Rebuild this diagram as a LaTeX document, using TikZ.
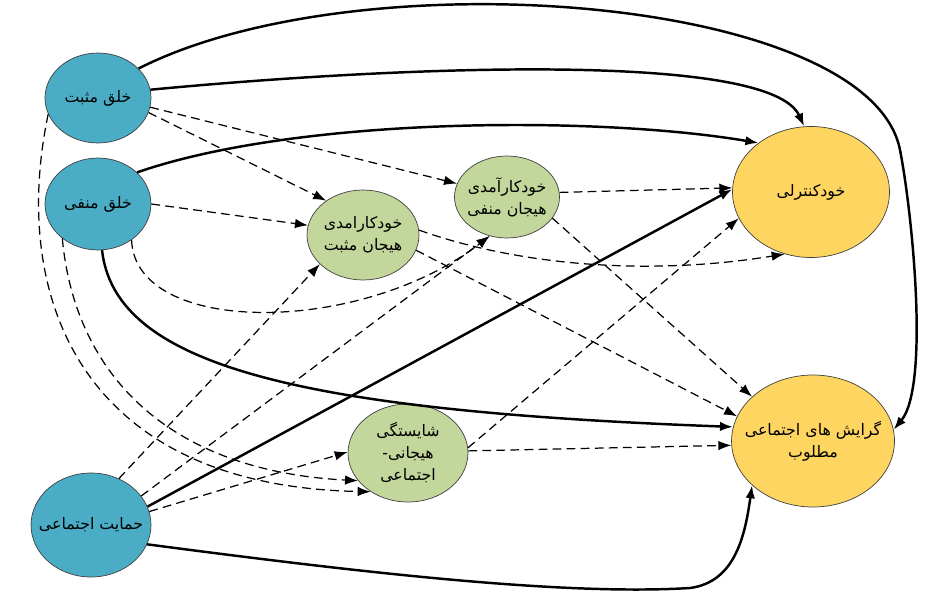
\documentclass[tikz,border=0pt]{standalone}
\usepackage{fontspec}
\usepackage{tikz}
\usetikzlibrary{shapes.geometric,arrows.meta}
\newfontfamily\farsi[Script=Arabic]{DejaVu Sans}
\TeXXeTstate=1
\newcommand{\fa}[1]{\beginR #1\endR}
\definecolor{moodblue}{RGB}{75,172,198}
\definecolor{effgreen}{RGB}{195,214,155}
\definecolor{outyellow}{RGB}{253,213,96}

\begin{document}
\begin{tikzpicture}
  [x=0.02cm,y=0.02cm,>={Latex[length=2.6mm,width=1.9mm]},
   every node/.style={ellipse,draw=black!75,thin,font=\farsi\fontsize{9}{12.5}\selectfont,align=center,inner sep=-6pt},
   solid edge/.style={->,line width=1.4pt},
   dash edge/.style={->,line width=0.7pt,dash pattern=on 5pt off 3pt}]
  \useasboundingbox (0,0) rectangle (925,596);

  \node[fill=moodblue,minimum width=2.12cm,minimum height=1.8cm] (pos) at (98,498) {\fa{خلق مثبت}};
  \node[fill=moodblue,minimum width=2.12cm,minimum height=1.84cm] (neg) at (98,392) {\fa{خلق منفی}};
  \node[fill=moodblue,minimum width=2.4cm,minimum height=2.08cm] (sup) at (91,71) {\fa{حمایت اجتماعی}};
  \node[fill=effgreen,minimum width=2.24cm,minimum height=1.8cm] (ep) at (363,361) {\fa{خودکارامدی}\\\fa{هیجان مثبت}};
  \node[fill=effgreen,minimum width=2.1cm,minimum height=1.64cm] (en) at (507,399) {\fa{خودکارآمدی}\\\fa{هیجان منفی}};
  \node[fill=effgreen,minimum width=2.4cm,minimum height=1.96cm] (scp) at (408,143) {\fa{شایستگی}\\\fa{هیجانی-}\\\fa{اجتماعی}};
  \node[fill=outyellow,minimum width=3.14cm,minimum height=2.62cm] (ctrl) at (811,404) {\fa{خودکنترلی}};
  \node[fill=outyellow,minimum width=3.14cm,minimum height=2.64cm] (goal) at (813,155) {\fa{گرایش های اجتماعی}\\\fa{مطلوب}};

  % direct paths
  \draw[solid edge] (pos.36) .. controls (360,640) and (870,600) .. (900,446) .. controls (912,385) and (930,210) .. (goal.8);
  \draw[solid edge] (pos.9) .. controls (400,530) and (770,545) .. (ctrl.96);
  \draw[solid edge] (neg.39) .. controls (300,480) and (600,480) .. (ctrl.137);
  \draw[solid edge] (neg.275) .. controls (115,230) and (300,185) .. (goal.170);
  \draw[solid edge] (sup.18) -- (ctrl.178);
  \draw[solid edge] (sup.341) .. controls (350,25) and (560,0) .. (690,8) .. controls (735,14) and (745,60) .. (goal.216);

  % mediated paths
  \draw[dash edge] (pos.198) .. controls (10,300) and (80,110) .. (scp.226);
  \draw[dash edge] (neg.224) .. controls (75,220) and (170,125) .. (scp.209);
  \draw[dash edge] (neg.313) .. controls (135,260) and (360,260) .. (en.246);
  \draw[dash edge] (ep.5) .. controls (520,330) and (650,320) .. (ctrl.247);
  \foreach \from/\to in {pos.344/ep.137,pos.350/en.165,neg.0/ep.170,sup.59/ep.214,sup.30/en.246,sup.13/scp.179,ep.344/goal.162,en.5/ctrl.177,en.335/goal.144,scp.5/ctrl.200,scp.2/goal.183}
    \draw[dash edge] (\from) -- (\to);

\end{tikzpicture}
\end{document}
